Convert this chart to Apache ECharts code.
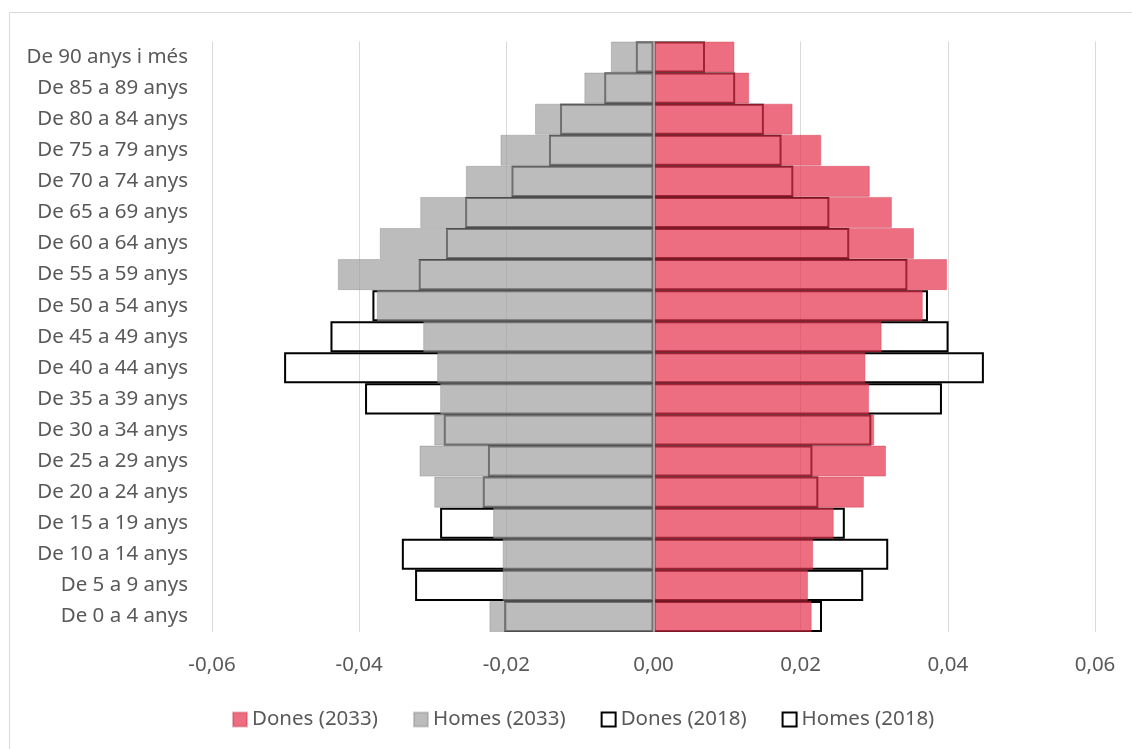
<!DOCTYPE html>
<html>
<head>
<meta charset="utf-8">
<script src="https://cdn.jsdelivr.net/npm/echarts@6/dist/echarts.min.js"></script>
<style>
html,body{margin:0;padding:0;background:#fff;}
#main{width:1132px;height:749px;}
</style>
</head>
<body>
<div id="main"></div>
<script>
var categories = ["De 0 a 4 anys","De 5 a 9 anys","De 10 a 14 anys","De 15 a 19 anys","De 20 a 24 anys","De 25 a 29 anys","De 30 a 34 anys","De 35 a 39 anys","De 40 a 44 anys","De 45 a 49 anys","De 50 a 54 anys","De 55 a 59 anys","De 60 a 64 anys","De 65 a 69 anys","De 70 a 74 anys","De 75 a 79 anys","De 80 a 84 anys","De 85 a 89 anys","De 90 anys i més"];
var dones2033 = [0.0215,0.0210,0.0217,0.0245,0.0286,0.0316,0.0300,0.0293,0.0288,0.0310,0.0366,0.0399,0.0354,0.0324,0.0294,0.0228,0.0189,0.0130,0.0110];
var homes2033 = [-0.0223,-0.0205,-0.0205,-0.0218,-0.0298,-0.0318,-0.0298,-0.0290,-0.0294,-0.0313,-0.0376,-0.0429,-0.0372,-0.0317,-0.0255,-0.0208,-0.0161,-0.0094,-0.0058];
var dones2018 = [0.0229,0.0285,0.0319,0.0260,0.0224,0.0216,0.0296,0.0392,0.0449,0.0401,0.0373,0.0345,0.0266,0.0239,0.0190,0.0174,0.0150,0.0111,0.0070];
var homes2018 = [-0.0203,-0.0324,-0.0342,-0.0290,-0.0232,-0.0225,-0.0285,-0.0392,-0.0502,-0.0439,-0.0382,-0.0319,-0.0282,-0.0256,-0.0193,-0.0142,-0.0127,-0.0067,-0.0024];
var xTicks = {min:-0.06, max:0.06, interval:0.02};

var FONT = '"Noto Sans", sans-serif';
var chart = echarts.init(document.getElementById('main'), null, {renderer:'canvas'});
var outline = {color:'rgba(0,0,0,0)', borderColor:'#000', borderWidth:2};
chart.setOption({
  animation:false,
  graphic:[{type:'rect', shape:{x:9.5, y:12.5, width:1200, height:800}, style:{fill:'none', stroke:'#d9d9d9', lineWidth:1}, silent:true, z:-10}],
  grid:{left:212, right:37, top:41.5, bottom:117, containLabel:false},
  legend:{
    left:227, top:704, icon:'rect', itemWidth:14, itemHeight:14, itemGap:35,
    textStyle:{fontFamily:FONT, fontSize:20.5, color:'#595959'},
    data:['Dones (2033)','Homes (2033)','Dones (2018)','Homes (2018)']
  },
  xAxis:{
    type:'value', min:xTicks.min, max:xTicks.max, interval:xTicks.interval,
    axisLine:{show:false}, axisTick:{show:false},
    splitLine:{show:true, lineStyle:{color:'#d9d9d9', width:1}},
    axisLabel:{margin:23, fontFamily:FONT, fontSize:20.5, color:'#595959',
      formatter:function(v){ if(Math.abs(v)<1e-9) return '0,00'; return v.toFixed(2).replace('.',','); }}
  },
  yAxis:{
    type:'category', data:categories,
    axisLine:{show:false, onZero:false}, axisTick:{show:false},
    axisLabel:{margin:24, fontFamily:FONT, fontSize:20.5, color:'#595959'}
  },
  series:[
    {name:'Dones (2018)', type:'bar', data:dones2018, barGap:'-100%', barCategoryGap:'0%', itemStyle:outline, z:2},
    {name:'Homes (2018)', type:'bar', data:homes2018, barGap:'-100%', barCategoryGap:'0%', itemStyle:outline, z:2},
    {name:'Dones (2033)', type:'bar', data:dones2033, barGap:'-100%', barCategoryGap:'0%', z:3,
      itemStyle:{color:'rgba(228,49,74,0.7)', borderColor:'rgba(200,40,65,0.35)', borderWidth:1}},
    {name:'Homes (2033)', type:'bar', data:homes2033, barGap:'-100%', barCategoryGap:'0%', z:3,
      itemStyle:{color:'rgba(159,159,159,0.7)', borderColor:'rgba(120,120,120,0.35)', borderWidth:1},
      markLine:{silent:true, symbol:['none','none'], label:{show:false}, z:10,
        lineStyle:{color:'#c4c4c4', width:1.5, type:'solid'}, data:[{xAxis:0}]}}
  ]
});
</script>
</body>
</html>
